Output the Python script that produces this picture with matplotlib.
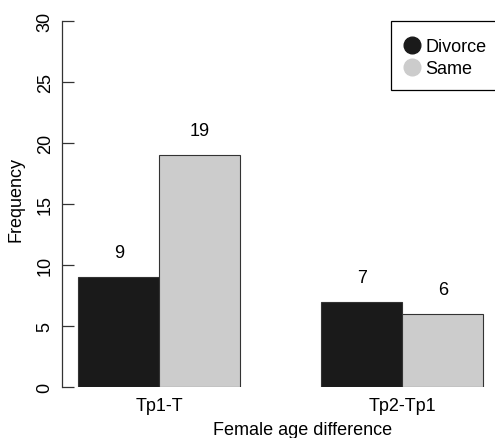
import numpy as np
import matplotlib
matplotlib.use('Agg')
import matplotlib.pyplot as plt
from matplotlib.lines import Line2D
from matplotlib.patches import Rectangle

plt.rcParams['font.family'] = ['Liberation Sans', 'DejaVu Sans']

groups = ['Tp1-T', 'Tp2-Tp1']
series = ['Divorce', 'Same']
divorce = [9, 7]
same = [19, 6]
colors = ['#1a1a1a', '#cccccc']

W, H = 495, 439
fig = plt.figure(figsize=(W / 100, H / 100), dpi=100)
# axes placed in pixel terms: left 62, right 495, top 22 (y=30), bottom 388 (y=0)
ax = fig.add_axes([62 / W, 1 - 388 / H, (495 - 62) / W, (388 - 22) / H])

# R style barplot, beside=TRUE, space=c(0,1)
left1 = np.array([1, 4])
ax.bar(left1, divorce, width=1, align='edge', color=colors[0], edgecolor='#333333', linewidth=0.8)
ax.bar(left1 + 1, same, width=1, align='edge', color=colors[1], edgecolor='#333333', linewidth=0.8)

for x, v in zip(left1 + 0.5, divorce):
    ax.text(x, v + 2, str(v), ha='center', va='center', fontsize=13)
for x, v in zip(left1 + 1.5, same):
    ax.text(x, v + 2, str(v), ha='center', va='center', fontsize=13)

ax.set_xlim(0.8, 0.8 + 433 / 81)
ax.set_ylim(0, 30)

for s in ['top', 'right', 'bottom']:
    ax.spines[s].set_visible(False)
ax.spines['left'].set_color('#333333')
ax.spines['left'].set_linewidth(0.9)

ax.set_xticks(left1 + 1)
ax.set_xticklabels(groups, fontsize=13)
ax.tick_params(axis='x', length=0, pad=7)

ax.set_yticks([0, 5, 10, 15, 20, 25, 30])
ax.tick_params(axis='y', direction='in', length=8.6, width=0.9, color='#333333',
               labelsize=13, pad=6, labelrotation=90)
for lab in ax.get_yticklabels():
    lab.set_va('center')

ax.set_xlabel('Female age difference', fontsize=13)
ax.xaxis.set_label_coords((303 - 62) / 433, -34 / 366)
ax.set_ylabel('Frequency', fontsize=13)
ax.yaxis.set_label_coords(-37 / 433, (388 - 200) / 366)

# legend: box runs off the right edge, as in the original
fig.patches.append(Rectangle((391 / W, 1 - 91 / H), 120 / W, 69 / H, transform=fig.transFigure,
                             facecolor='white', edgecolor='black', linewidth=0.9, zorder=5))
handles = [Line2D([], [], marker='o', linestyle='none', markersize=12,
                  markerfacecolor=c, markeredgecolor=c) for c in colors]
leg = fig.legend(handles, series, loc='upper left', bbox_to_anchor=(391 / W, 1 - 22 / H),
                 fontsize=13, frameon=False, borderpad=0.95,
                 handlelength=0.4, handletextpad=0.55, labelspacing=0.27,
                 borderaxespad=0)
leg.set_zorder(6)

fig.savefig('out.png', dpi=100)
